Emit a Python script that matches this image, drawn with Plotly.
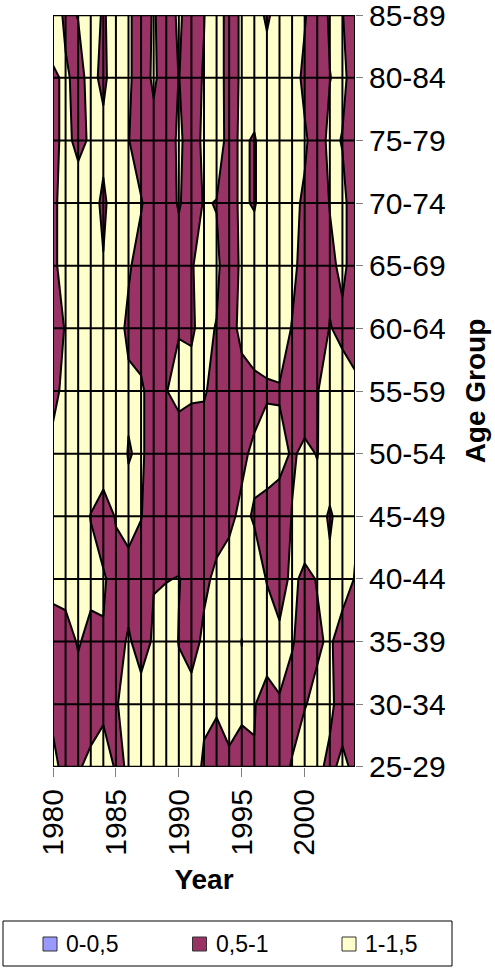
import plotly.graph_objects as go

# Years on the horizontal axis (one gridline per year)
years = list(range(1980, 2005))

# Age groups on the vertical axis, bottom to top
age_groups = ["25-29", "30-34", "35-39", "40-44", "45-49", "50-54", "55-59",
              "60-64", "65-69", "70-74", "75-79", "80-84", "85-89"]

# Ratio per age group, one value per year 1980..2004
r_25_29 = [1.12, 0.85, 0.98, 1.05, 1.10, 0.98, 1.01, 1.10, 1.15, 1.20, 1.15, 1.10, 0.97,
           0.85, 0.98, 0.88, 0.99, 0.85, 0.90, 1.02, 1.10, 1.05, 0.95, 1.05, 0.95]
r_30_34 = [0.88, 0.80, 0.85, 0.90, 0.95, 0.99, 1.05, 1.10, 1.15, 1.20, 1.10, 1.10, 1.04,
           1.04, 1.04, 1.06, 1.01, 0.92, 0.99, 0.90, 0.99, 1.05, 1.05, 0.90, 0.90]
r_35_39 = [0.85, 0.85, 1.03, 0.90, 0.98, 0.90, 1.03, 0.90, 1.03, 1.15, 0.99, 0.90, 1.05,
           1.10, 1.15, 0.995, 1.15, 1.10, 1.05, 1.02, 0.90, 0.97, 1.03, 0.90, 0.85]
r_40_44 = [1.10, 1.15, 1.20, 1.10, 1.03, 0.90, 0.90, 0.85, 0.99, 0.99, 1.01, 0.92, 0.95,
           1.05, 1.10, 1.10, 1.10, 0.99, 0.90, 1.05, 0.95, 1.01, 1.05, 1.10, 0.99]
r_45_49 = [1.20, 1.20, 1.15, 0.99, 0.85, 1.02, 1.10, 1.01, 0.85, 0.80, 0.80, 0.80, 0.85,
           0.90, 0.95, 1.05, 0.98, 0.85, 0.85, 1.01, 1.15, 1.10, 0.97, 1.10, 1.03]
r_50_54 = [1.10, 1.20, 1.20, 1.20, 1.20, 1.20, 0.98, 1.05, 0.85, 0.80, 0.80, 0.80, 0.85,
           0.80, 0.85, 0.95, 1.05, 1.20, 1.10, 0.97, 1.05, 0.99, 1.15, 1.20, 1.15]
r_55_59 = [0.90, 1.10, 1.20, 1.20, 1.20, 1.20, 1.05, 1.05, 0.85, 0.99, 1.10, 1.05, 1.03,
           0.90, 0.80, 0.85, 0.90, 0.95, 0.97, 0.90, 0.85, 0.99, 1.10, 1.10, 1.05]
r_60_64 = [0.85, 1.02, 1.20, 1.20, 1.20, 1.10, 0.95, 0.85, 0.98, 0.80, 0.98, 0.98, 1.05,
           0.99, 0.85, 1.10, 1.20, 1.20, 1.20, 0.98, 0.80, 0.85, 1.01, 0.95, 0.90]
r_65_69 = [0.90, 1.20, 1.20, 1.20, 1.02, 1.20, 1.03, 0.90, 0.85, 0.80, 0.85, 0.98, 1.10,
           1.05, 0.85, 1.05, 1.20, 1.20, 1.20, 1.10, 0.85, 0.80, 0.95, 1.05, 0.90]
r_70_74 = [0.90, 1.20, 1.20, 1.15, 0.93, 1.20, 1.15, 1.02, 0.85, 0.85, 1.03, 0.85, 1.02,
           0.99, 0.90, 1.05, 0.97, 1.20, 1.20, 1.05, 0.97, 0.85, 1.01, 1.05, 0.90]
r_75_79 = [0.90, 1.10, 0.90, 1.05, 1.10, 1.20, 1.01, 0.85, 0.90, 0.85, 1.05, 0.88, 1.05,
           1.15, 0.90, 1.05, 0.97, 1.20, 1.20, 1.10, 1.03, 0.90, 1.05, 0.99, 0.85]
r_80_84 = [0.95, 1.05, 0.90, 1.10, 0.92, 1.20, 1.05, 0.85, 1.05, 0.85, 1.005, 0.90, 1.02,
           1.20, 0.85, 1.05, 1.20, 1.20, 1.20, 1.10, 0.95, 0.85, 0.995, 1.05, 0.90]
r_85_89 = [1.20, 0.93, 1.01, 1.20, 0.95, 1.20, 1.05, 0.85, 1.03, 0.85, 1.05, 0.85, 0.99,
           1.20, 0.85, 1.05, 1.20, 0.93, 1.20, 1.15, 1.02, 0.85, 1.03, 1.01, 0.85]

z = [r_25_29, r_30_34, r_35_39, r_40_44, r_45_49, r_50_54, r_55_59,
     r_60_64, r_65_69, r_70_74, r_75_79, r_80_84, r_85_89]

# Value bands shown in the legend
band_labels = ["0-0,5", "0,5-1", "1-1,5"]
band_colors = ["#9999FF", "#993366", "#FFFFCC"]

FONT = "Liberation Sans, Arial, sans-serif"
W, H = 495, 968
ML, MR, MT, MB = 53, 140, 15, 201
PW, PH = W - ML - MR, H - MT - MB
rows = list(range(len(age_groups)))


def px_x(px):
    """Pixel column -> paper x."""
    return (px - ML) / PW


def px_y(py):
    """Pixel row -> paper y."""
    return (H - MB - py) / PH


fig = go.Figure()

fig.add_trace(go.Contour(
    x=years, y=rows, z=z,
    contours=dict(start=0.5, end=1.0, size=0.5, coloring="fill", showlines=True),
    colorscale=[[0, band_colors[0]], [0.25, band_colors[0]],
                [0.25, band_colors[1]], [0.75, band_colors[1]],
                [0.75, band_colors[2]], [1, band_colors[2]]],
    line=dict(color="black", width=2, smoothing=0),
    showscale=False, hoverinfo="skip", showlegend=False,
))

# Black gridlines drawn over the filled surface
gx, gy = [], []
for yr in years:
    gx += [yr, yr, None]
    gy += [rows[0], rows[-1], None]
for r in rows:
    gx += [years[0], years[-1], None]
    gy += [r, r, None]
fig.add_trace(go.Scatter(x=gx, y=gy, mode="lines", line=dict(color="black", width=2),
                         hoverinfo="skip", showlegend=False, cliponaxis=False))

# Legend box below the chart: frame, colour swatches and labels
shapes = [dict(type="rect", xref="paper", yref="paper",
               x0=px_x(3), x1=px_x(452), y0=px_y(966), y1=px_y(921),
               line=dict(color="black", width=1), fillcolor="white", layer="above")]
annotations = []
for k, (label, color) in enumerate(zip(band_labels, band_colors)):
    cx = 50 + 149.5 * k
    shapes.append(dict(type="rect", xref="paper", yref="paper",
                       x0=px_x(cx - 7), x1=px_x(cx + 7), y0=px_y(951), y1=px_y(937),
                       line=dict(color="#333333", width=1), fillcolor=color, layer="above"))
    annotations.append(dict(text=label, xref="paper", yref="paper",
                            x=px_x(cx + 14), y=px_y(944), xanchor="left", yanchor="middle",
                            showarrow=False, font=dict(family=FONT, size=23, color="black")))

fig.update_layout(
    width=W, height=H,
    margin=dict(l=ML, r=MR, t=MT, b=MB, pad=0, autoexpand=False),
    paper_bgcolor="white", plot_bgcolor="white",
    font=dict(family=FONT, color="black", size=30),
    showlegend=False,
    shapes=shapes,
    annotations=annotations,
    xaxis=dict(
        range=[years[0], years[-1]], tickmode="linear", tick0=1980, dtick=5,
        ticks="outside", ticklen=9, tickcolor="#808080", tickwidth=1,
        tickangle=-90, showgrid=False, zeroline=False, showline=False,
        tickfont=dict(size=30), ticklabeloverflow="allow", automargin=False,
        title=dict(text="<b>Year</b>", font=dict(size=28), standoff=14),
    ),
    yaxis=dict(
        side="right", range=[rows[0] - 0.002, rows[-1] + 0.002],
        tickvals=rows, ticktext=age_groups,
        ticks="outside", ticklen=7, tickcolor="#808080", tickwidth=1,
        showgrid=False, zeroline=False, showline=False,
        tickfont=dict(size=30), ticklabeloverflow="allow", automargin=False,
        title=dict(text="<b>Age Group</b>", font=dict(size=28), standoff=20),
    ),
)

fig.write_html("out.html")
